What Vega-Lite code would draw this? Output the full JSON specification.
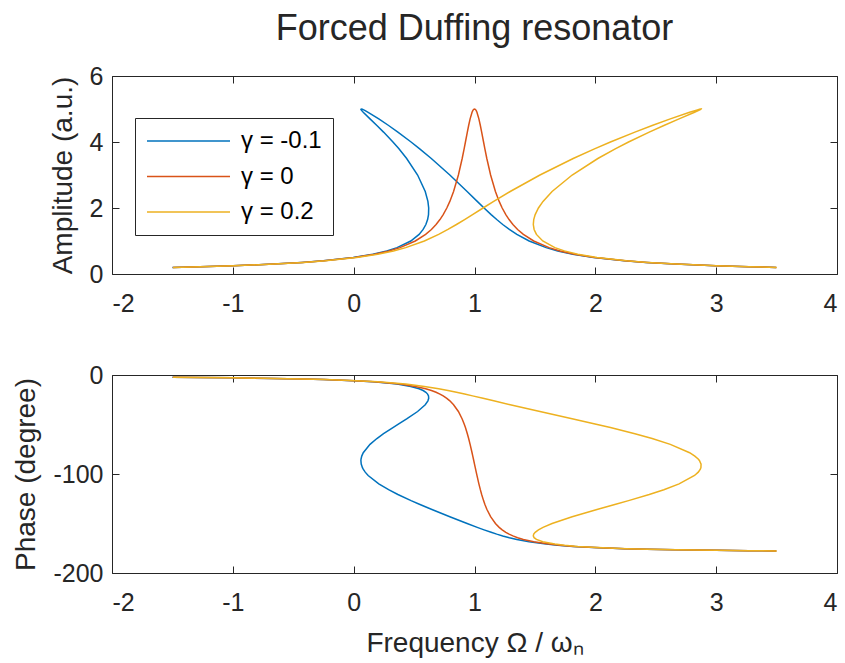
{
  "$schema": "https://vega.github.io/schema/vega-lite/v6.json",
  "padding": {"left": 12, "top": 10, "right": 5, "bottom": 5},
  "config": {
    "font": "Liberation Sans",
    "view": {"stroke": "#262626", "strokeWidth": 1},
    "axis": {
      "domain": false, "grid": false,
      "labelFontSize": 25, "labelColor": "#262626",
      "titleFontSize": 28, "titleColor": "#262626", "titleFontWeight": "normal",
      "tickColor": "#262626", "tickSize": -7, "tickWidth": 1,
      "labelPadding": 16, "titlePadding": 12
    },
    "axisBottom": {"labelPadding": 24, "titlePadding": 14}
  },
  "datasets": {
    "curves": [
      {"g":"γ = -0.1","i":0,"a":0.2,"w":-1.4995,"p":-2.29},
      {"g":"γ = -0.1","i":1,"a":0.22,"w":-1.2723,"p":-2.52},
      {"g":"γ = -0.1","i":2,"a":0.25,"w":-0.9998,"p":-2.87},
      {"g":"γ = -0.1","i":3,"a":0.3,"w":-0.667,"p":-3.44},
      {"g":"γ = -0.1","i":4,"a":0.35,"w":-0.4297,"p":-4.01},
      {"g":"γ = -0.1","i":5,"a":0.4,"w":-0.252,"p":-4.59},
      {"g":"γ = -0.1","i":6,"a":0.5,"w":-0.0044,"p":-5.74},
      {"g":"γ = -0.1","i":7,"a":0.6,"w":0.1592,"p":-6.89},
      {"g":"γ = -0.1","i":8,"a":0.7,"w":0.2744,"p":-8.05},
      {"g":"γ = -0.1","i":9,"a":0.8,"w":0.3591,"p":-9.21},
      {"g":"γ = -0.1","i":10,"a":1.0,"w":0.4726,"p":-11.54},
      {"g":"γ = -0.1","i":11,"a":1.2,"w":0.5415,"p":-13.89},
      {"g":"γ = -0.1","i":12,"a":1.35,"w":0.575,"p":-15.66},
      {"g":"γ = -0.1","i":13,"a":1.5,"w":0.5976,"p":-17.46},
      {"g":"γ = -0.1","i":14,"a":1.65,"w":0.6119,"p":-19.27},
      {"g":"γ = -0.1","i":15,"a":1.8,"w":0.6194,"p":-21.1},
      {"g":"γ = -0.1","i":16,"a":2.0,"w":0.6209,"p":-23.58},
      {"g":"γ = -0.1","i":17,"a":2.2,"w":0.6144,"p":-26.11},
      {"g":"γ = -0.1","i":18,"a":2.5,"w":0.5924,"p":-30.0},
      {"g":"γ = -0.1","i":19,"a":3.0,"w":0.5292,"p":-36.87},
      {"g":"γ = -0.1","i":20,"a":3.5,"w":0.4386,"p":-44.43},
      {"g":"γ = -0.1","i":21,"a":3.8,"w":0.373,"p":-49.46},
      {"g":"γ = -0.1","i":22,"a":4.0,"w":0.325,"p":-53.13},
      {"g":"γ = -0.1","i":23,"a":4.3,"w":0.2473,"p":-59.32},
      {"g":"γ = -0.1","i":24,"a":4.5,"w":0.1922,"p":-64.16},
      {"g":"γ = -0.1","i":25,"a":4.7,"w":0.1353,"p":-70.05},
      {"g":"γ = -0.1","i":26,"a":4.9,"w":0.0793,"p":-78.52},
      {"g":"γ = -0.1","i":27,"a":4.95,"w":0.0669,"p":-81.89},
      {"g":"γ = -0.1","i":28,"a":4.98,"w":0.061,"p":-84.87},
      {"g":"γ = -0.1","i":29,"a":4.99,"w":0.0599,"p":-86.38},
      {"g":"γ = -0.1","i":30,"a":5.0,"w":0.0625,"p":-90.0},
      {"g":"γ = -0.1","i":31,"a":4.99,"w":0.0726,"p":-93.62},
      {"g":"γ = -0.1","i":32,"a":4.98,"w":0.079,"p":-95.13},
      {"g":"γ = -0.1","i":33,"a":4.95,"w":0.0954,"p":-98.11},
      {"g":"γ = -0.1","i":34,"a":4.9,"w":0.1199,"p":-101.48},
      {"g":"γ = -0.1","i":35,"a":4.7,"w":0.2079,"p":-109.95},
      {"g":"γ = -0.1","i":36,"a":4.5,"w":0.2891,"p":-115.84},
      {"g":"γ = -0.1","i":37,"a":4.3,"w":0.366,"p":-120.68},
      {"g":"γ = -0.1","i":38,"a":4.0,"w":0.475,"p":-126.87},
      {"g":"γ = -0.1","i":39,"a":3.8,"w":0.544,"p":-130.54},
      {"g":"γ = -0.1","i":40,"a":3.5,"w":0.6426,"p":-135.57},
      {"g":"γ = -0.1","i":41,"a":3.0,"w":0.7958,"p":-143.13},
      {"g":"γ = -0.1","i":42,"a":2.5,"w":0.9388,"p":-150.0},
      {"g":"γ = -0.1","i":43,"a":2.2,"w":1.0226,"p":-153.89},
      {"g":"γ = -0.1","i":44,"a":2.0,"w":1.0791,"p":-156.42},
      {"g":"γ = -0.1","i":45,"a":1.8,"w":1.1377,"p":-158.9},
      {"g":"γ = -0.1","i":46,"a":1.65,"w":1.184,"p":-160.73},
      {"g":"γ = -0.1","i":47,"a":1.5,"w":1.2336,"p":-162.54},
      {"g":"γ = -0.1","i":48,"a":1.35,"w":1.2883,"p":-164.34},
      {"g":"γ = -0.1","i":49,"a":1.2,"w":1.3505,"p":-166.11},
      {"g":"γ = -0.1","i":50,"a":1.0,"w":1.4524,"p":-168.46},
      {"g":"γ = -0.1","i":51,"a":0.8,"w":1.593,"p":-170.79},
      {"g":"γ = -0.1","i":52,"a":0.7,"w":1.6889,"p":-171.95},
      {"g":"γ = -0.1","i":53,"a":0.6,"w":1.8138,"p":-173.11},
      {"g":"γ = -0.1","i":54,"a":0.5,"w":1.9856,"p":-174.26},
      {"g":"γ = -0.1","i":55,"a":0.4,"w":2.24,"p":-175.41},
      {"g":"γ = -0.1","i":56,"a":0.35,"w":2.4205,"p":-175.99},
      {"g":"γ = -0.1","i":57,"a":0.3,"w":2.6603,"p":-176.56},
      {"g":"γ = -0.1","i":58,"a":0.25,"w":2.9952,"p":-177.13},
      {"g":"γ = -0.1","i":59,"a":0.22,"w":3.2687,"p":-177.48},
      {"g":"γ = -0.1","i":60,"a":0.2,"w":3.4965,"p":-177.71},

      {"g":"γ = 0","i":0,"a":0.2,"w":-1.498,"p":-2.29},
      {"g":"γ = 0","i":1,"a":0.22,"w":-1.2705,"p":-2.52},
      {"g":"γ = 0","i":2,"a":0.25,"w":-0.9975,"p":-2.87},
      {"g":"γ = 0","i":3,"a":0.3,"w":-0.6637,"p":-3.44},
      {"g":"γ = 0","i":4,"a":0.35,"w":-0.4251,"p":-4.01},
      {"g":"γ = 0","i":5,"a":0.4,"w":-0.246,"p":-4.59},
      {"g":"γ = 0","i":6,"a":0.5,"w":0.005,"p":-5.74},
      {"g":"γ = 0","i":7,"a":0.6,"w":0.1727,"p":-6.89},
      {"g":"γ = 0","i":8,"a":0.7,"w":0.2928,"p":-8.05},
      {"g":"γ = 0","i":9,"a":0.8,"w":0.3831,"p":-9.21},
      {"g":"γ = 0","i":10,"a":1.0,"w":0.5101,"p":-11.54},
      {"g":"γ = 0","i":11,"a":1.2,"w":0.5955,"p":-13.89},
      {"g":"γ = 0","i":12,"a":1.35,"w":0.6434,"p":-15.66},
      {"g":"γ = 0","i":13,"a":1.5,"w":0.682,"p":-17.46},
      {"g":"γ = 0","i":14,"a":1.65,"w":0.714,"p":-19.27},
      {"g":"γ = 0","i":15,"a":1.8,"w":0.7409,"p":-21.1},
      {"g":"γ = 0","i":16,"a":2.0,"w":0.7709,"p":-23.58},
      {"g":"γ = 0","i":17,"a":2.2,"w":0.7959,"p":-26.11},
      {"g":"γ = 0","i":18,"a":2.5,"w":0.8268,"p":-30.0},
      {"g":"γ = 0","i":19,"a":3.0,"w":0.8667,"p":-36.87},
      {"g":"γ = 0","i":20,"a":3.5,"w":0.898,"p":-44.43},
      {"g":"γ = 0","i":21,"a":3.8,"w":0.9145,"p":-49.46},
      {"g":"γ = 0","i":22,"a":4.0,"w":0.925,"p":-53.13},
      {"g":"γ = 0","i":23,"a":4.3,"w":0.9407,"p":-59.32},
      {"g":"γ = 0","i":24,"a":4.5,"w":0.9516,"p":-64.16},
      {"g":"γ = 0","i":25,"a":4.7,"w":0.9637,"p":-70.05},
      {"g":"γ = 0","i":26,"a":4.9,"w":0.9797,"p":-78.52},
      {"g":"γ = 0","i":27,"a":4.95,"w":0.9858,"p":-81.89},
      {"g":"γ = 0","i":28,"a":4.98,"w":0.991,"p":-84.87},
      {"g":"γ = 0","i":29,"a":4.99,"w":0.9937,"p":-86.38},
      {"g":"γ = 0","i":30,"a":5.0,"w":1.0,"p":-90.0},
      {"g":"γ = 0","i":31,"a":4.99,"w":1.0063,"p":-93.62},
      {"g":"γ = 0","i":32,"a":4.98,"w":1.009,"p":-95.13},
      {"g":"γ = 0","i":33,"a":4.95,"w":1.0143,"p":-98.11},
      {"g":"γ = 0","i":34,"a":4.9,"w":1.0203,"p":-101.48},
      {"g":"γ = 0","i":35,"a":4.7,"w":1.0363,"p":-109.95},
      {"g":"γ = 0","i":36,"a":4.5,"w":1.0484,"p":-115.84},
      {"g":"γ = 0","i":37,"a":4.3,"w":1.0593,"p":-120.68},
      {"g":"γ = 0","i":38,"a":4.0,"w":1.075,"p":-126.87},
      {"g":"γ = 0","i":39,"a":3.8,"w":1.0855,"p":-130.54},
      {"g":"γ = 0","i":40,"a":3.5,"w":1.102,"p":-135.57},
      {"g":"γ = 0","i":41,"a":3.0,"w":1.1333,"p":-143.13},
      {"g":"γ = 0","i":42,"a":2.5,"w":1.1732,"p":-150.0},
      {"g":"γ = 0","i":43,"a":2.2,"w":1.2041,"p":-153.89},
      {"g":"γ = 0","i":44,"a":2.0,"w":1.2291,"p":-156.42},
      {"g":"γ = 0","i":45,"a":1.8,"w":1.2592,"p":-158.9},
      {"g":"γ = 0","i":46,"a":1.65,"w":1.2861,"p":-160.73},
      {"g":"γ = 0","i":47,"a":1.5,"w":1.318,"p":-162.54},
      {"g":"γ = 0","i":48,"a":1.35,"w":1.3566,"p":-164.34},
      {"g":"γ = 0","i":49,"a":1.2,"w":1.4045,"p":-166.11},
      {"g":"γ = 0","i":50,"a":1.0,"w":1.4899,"p":-168.46},
      {"g":"γ = 0","i":51,"a":0.8,"w":1.617,"p":-170.79},
      {"g":"γ = 0","i":52,"a":0.7,"w":1.7073,"p":-171.95},
      {"g":"γ = 0","i":53,"a":0.6,"w":1.8273,"p":-173.11},
      {"g":"γ = 0","i":54,"a":0.5,"w":1.995,"p":-174.26},
      {"g":"γ = 0","i":55,"a":0.4,"w":2.246,"p":-175.41},
      {"g":"γ = 0","i":56,"a":0.35,"w":2.4251,"p":-175.99},
      {"g":"γ = 0","i":57,"a":0.3,"w":2.6637,"p":-176.56},
      {"g":"γ = 0","i":58,"a":0.25,"w":2.9975,"p":-177.13},
      {"g":"γ = 0","i":59,"a":0.22,"w":3.2705,"p":-177.48},
      {"g":"γ = 0","i":60,"a":0.2,"w":3.498,"p":-177.71},

      {"g":"γ = 0.2","i":0,"a":0.2,"w":-1.495,"p":-2.29},
      {"g":"γ = 0.2","i":1,"a":0.22,"w":-1.2669,"p":-2.52},
      {"g":"γ = 0.2","i":2,"a":0.25,"w":-0.9928,"p":-2.87},
      {"g":"γ = 0.2","i":3,"a":0.3,"w":-0.6569,"p":-3.44},
      {"g":"γ = 0.2","i":4,"a":0.35,"w":-0.4159,"p":-4.01},
      {"g":"γ = 0.2","i":5,"a":0.4,"w":-0.234,"p":-4.59},
      {"g":"γ = 0.2","i":6,"a":0.5,"w":0.0238,"p":-5.74},
      {"g":"γ = 0.2","i":7,"a":0.6,"w":0.1997,"p":-6.89},
      {"g":"γ = 0.2","i":8,"a":0.7,"w":0.3295,"p":-8.05},
      {"g":"γ = 0.2","i":9,"a":0.8,"w":0.4311,"p":-9.21},
      {"g":"γ = 0.2","i":10,"a":1.0,"w":0.5851,"p":-11.54},
      {"g":"γ = 0.2","i":11,"a":1.2,"w":0.7035,"p":-13.89},
      {"g":"γ = 0.2","i":12,"a":1.35,"w":0.7801,"p":-15.66},
      {"g":"γ = 0.2","i":13,"a":1.5,"w":0.8508,"p":-17.46},
      {"g":"γ = 0.2","i":14,"a":1.65,"w":0.9181,"p":-19.27},
      {"g":"γ = 0.2","i":15,"a":1.8,"w":0.9839,"p":-21.1},
      {"g":"γ = 0.2","i":16,"a":2.0,"w":1.0709,"p":-23.58},
      {"g":"γ = 0.2","i":17,"a":2.2,"w":1.1589,"p":-26.11},
      {"g":"γ = 0.2","i":18,"a":2.5,"w":1.2955,"p":-30.0},
      {"g":"γ = 0.2","i":19,"a":3.0,"w":1.5417,"p":-36.87},
      {"g":"γ = 0.2","i":20,"a":3.5,"w":1.8167,"p":-44.43},
      {"g":"γ = 0.2","i":21,"a":3.8,"w":1.9975,"p":-49.46},
      {"g":"γ = 0.2","i":22,"a":4.0,"w":2.125,"p":-53.13},
      {"g":"γ = 0.2","i":23,"a":4.3,"w":2.3274,"p":-59.32},
      {"g":"γ = 0.2","i":24,"a":4.5,"w":2.4703,"p":-64.16},
      {"g":"γ = 0.2","i":25,"a":4.7,"w":2.6205,"p":-70.05},
      {"g":"γ = 0.2","i":26,"a":4.9,"w":2.7804,"p":-78.52},
      {"g":"γ = 0.2","i":27,"a":4.95,"w":2.8234,"p":-81.89},
      {"g":"γ = 0.2","i":28,"a":4.98,"w":2.8511,"p":-84.87},
      {"g":"γ = 0.2","i":29,"a":4.99,"w":2.8612,"p":-86.38},
      {"g":"γ = 0.2","i":30,"a":5.0,"w":2.875,"p":-90.0},
      {"g":"γ = 0.2","i":31,"a":4.99,"w":2.8738,"p":-93.62},
      {"g":"γ = 0.2","i":32,"a":4.98,"w":2.869,"p":-95.13},
      {"g":"γ = 0.2","i":33,"a":4.95,"w":2.8519,"p":-98.11},
      {"g":"γ = 0.2","i":34,"a":4.9,"w":2.8211,"p":-101.48},
      {"g":"γ = 0.2","i":35,"a":4.7,"w":2.6931,"p":-109.95},
      {"g":"γ = 0.2","i":36,"a":4.5,"w":2.5672,"p":-115.84},
      {"g":"γ = 0.2","i":37,"a":4.3,"w":2.4461,"p":-120.68},
      {"g":"γ = 0.2","i":38,"a":4.0,"w":2.275,"p":-126.87},
      {"g":"γ = 0.2","i":39,"a":3.8,"w":2.1685,"p":-130.54},
      {"g":"γ = 0.2","i":40,"a":3.5,"w":2.0208,"p":-135.57},
      {"g":"γ = 0.2","i":41,"a":3.0,"w":1.8083,"p":-143.13},
      {"g":"γ = 0.2","i":42,"a":2.5,"w":1.642,"p":-150.0},
      {"g":"γ = 0.2","i":43,"a":2.2,"w":1.5671,"p":-153.89},
      {"g":"γ = 0.2","i":44,"a":2.0,"w":1.5291,"p":-156.42},
      {"g":"γ = 0.2","i":45,"a":1.8,"w":1.5022,"p":-158.9},
      {"g":"γ = 0.2","i":46,"a":1.65,"w":1.4902,"p":-160.73},
      {"g":"γ = 0.2","i":47,"a":1.5,"w":1.4867,"p":-162.54},
      {"g":"γ = 0.2","i":48,"a":1.35,"w":1.4933,"p":-164.34},
      {"g":"γ = 0.2","i":49,"a":1.2,"w":1.5125,"p":-166.11},
      {"g":"γ = 0.2","i":50,"a":1.0,"w":1.5649,"p":-168.46},
      {"g":"γ = 0.2","i":51,"a":0.8,"w":1.665,"p":-170.79},
      {"g":"γ = 0.2","i":52,"a":0.7,"w":1.744,"p":-171.95},
      {"g":"γ = 0.2","i":53,"a":0.6,"w":1.8543,"p":-173.11},
      {"g":"γ = 0.2","i":54,"a":0.5,"w":2.0137,"p":-174.26},
      {"g":"γ = 0.2","i":55,"a":0.4,"w":2.258,"p":-175.41},
      {"g":"γ = 0.2","i":56,"a":0.35,"w":2.4343,"p":-175.99},
      {"g":"γ = 0.2","i":57,"a":0.3,"w":2.6704,"p":-176.56},
      {"g":"γ = 0.2","i":58,"a":0.25,"w":3.0022,"p":-177.13},
      {"g":"γ = 0.2","i":59,"a":0.22,"w":3.2742,"p":-177.48},
      {"g":"γ = 0.2","i":60,"a":0.2,"w":3.501,"p":-177.71}
    ]
  },
  "data": {"name": "curves"},
  "spacing": 101,
  "bounds": "flush",
  "resolve": {"legend": {"color": "independent"}},
  "vconcat": [
    {
      "width": 725,
      "height": 198,
      "title": {"text": "Forced Duffing resonator", "fontSize": 36, "fontWeight": "normal", "color": "#262626", "frame": "group", "anchor": "middle", "offset": 16},
      "layer": [
        {
          "mark": {"type": "line", "strokeWidth": 1.5},
          "encoding": {
            "x": {"field": "w", "type": "quantitative", "scale": {"domain": [-2, 4], "nice": false, "zero": false},
                  "axis": {"orient": "bottom", "title": null, "values": [-2, -1, 0, 1, 2, 3, 4], "labelExpr": "'' + datum.value"}},
            "y": {"field": "a", "type": "quantitative", "scale": {"domain": [0, 6], "nice": false},
                  "axis": {"orient": "left", "title": "Amplitude (a.u.)", "values": [0, 2, 4, 6], "labelExpr": "'' + datum.value"}},
            "color": {"field": "g", "type": "nominal",
                      "scale": {"domain": ["γ = -0.1", "γ = 0", "γ = 0.2"], "range": ["#0072BD", "#D95319", "#EDB120"]},
                      "legend": {"orient": "none", "legendX": 23, "legendY": 42, "title": null,
                                 "strokeColor": "#262626", "fillColor": "white", "padding": 11,
                                 "symbolType": "stroke", "symbolSize": 6889, "symbolStrokeWidth": 1.5,
                                 "labelFontSize": 24, "labelColor": "#000000", "labelOffset": 10,
                                 "clipHeight": 24, "rowPadding": 11.5}},
            "order": {"field": "i", "type": "quantitative"}
          }
        },
        {
          "mark": {"type": "point", "opacity": 0},
          "encoding": {
            "x": {"field": "w", "type": "quantitative", "axis": {"orient": "top", "title": null, "labels": false, "values": [-2, -1, 0, 1, 2, 3, 4]}},
            "y": {"field": "a", "type": "quantitative", "axis": {"orient": "right", "title": null, "labels": false, "values": [0, 2, 4, 6]}}
          }
        }
      ],
      "resolve": {"axis": {"x": "independent", "y": "independent"}}
    },
    {
      "width": 725,
      "height": 198,
      "layer": [
        {
          "mark": {"type": "line", "strokeWidth": 1.5},
          "encoding": {
            "x": {"field": "w", "type": "quantitative", "scale": {"domain": [-2, 4], "nice": false, "zero": false},
                  "axis": {"orient": "bottom", "title": "Frequency Ω / ωₙ", "values": [-2, -1, 0, 1, 2, 3, 4], "labelExpr": "'' + datum.value"}},
            "y": {"field": "p", "type": "quantitative", "scale": {"domain": [-200, 0], "nice": false},
                  "axis": {"orient": "left", "title": "Phase (degree)", "values": [-200, -100, 0], "labelExpr": "'' + datum.value"}},
            "color": {"field": "g", "type": "nominal",
                      "scale": {"domain": ["γ = -0.1", "γ = 0", "γ = 0.2"], "range": ["#0072BD", "#D95319", "#EDB120"]},
                      "legend": null},
            "order": {"field": "i", "type": "quantitative"}
          }
        },
        {
          "mark": {"type": "point", "opacity": 0},
          "encoding": {
            "x": {"field": "w", "type": "quantitative", "axis": {"orient": "top", "title": null, "labels": false, "values": [-2, -1, 0, 1, 2, 3, 4]}},
            "y": {"field": "p", "type": "quantitative", "axis": {"orient": "right", "title": null, "labels": false, "values": [-200, -100, 0]}}
          }
        }
      ],
      "resolve": {"axis": {"x": "independent", "y": "independent"}}
    }
  ]
}
